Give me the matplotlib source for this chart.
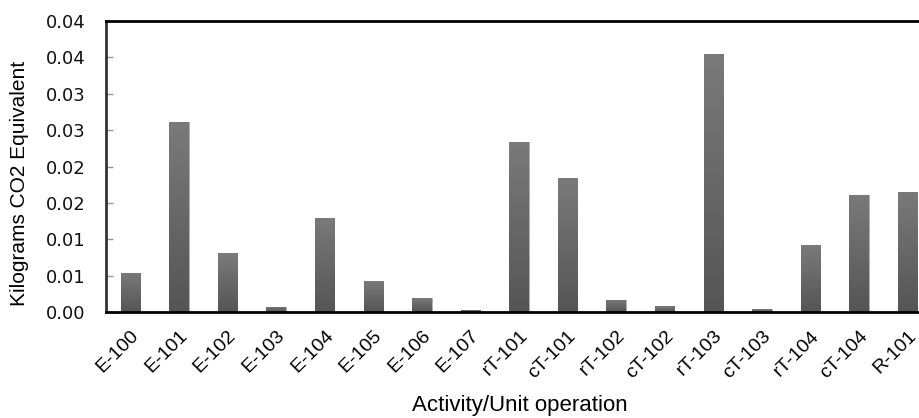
import numpy as np
import matplotlib
matplotlib.use("Agg")
import matplotlib.pyplot as plt
from matplotlib.ticker import FixedLocator, FixedFormatter
from matplotlib.colors import LinearSegmentedColormap

categories = ["E-100", "E-101", "E-102", "E-103", "E-104", "E-105", "E-106", "E-107",
              "rT-101", "cT-101", "rT-102", "cT-102", "rT-103", "cT-103", "rT-104",
              "cT-104", "R-101"]
values = [0.0054, 0.0261, 0.0081, 0.0007, 0.0129, 0.0042, 0.0019, 0.0003,
          0.0234, 0.0184, 0.0017, 0.0008, 0.0354, 0.0004, 0.0092, 0.0161, 0.0165]
ytick_values = [0.0, 0.005, 0.01, 0.015, 0.02, 0.025, 0.03, 0.035, 0.04]
ytick_labels = ["0.00", "0.01", "0.01", "0.02", "0.02", "0.03", "0.03", "0.04", "0.04"]

W, H = 920, 418
fig = plt.figure(figsize=(W / 100, H / 100), dpi=100)
left, right, top, bottom = 106, 932, 21, 312
ax = fig.add_axes([left / W, 1 - bottom / H, (right - left) / W, (bottom - top) / H])

x = np.arange(len(categories))
bars = ax.bar(x, values, width=0.4, color="#666666", edgecolor="#b0b0b0", linewidth=0.6, zorder=2)

grad = np.linspace(0, 1, 256).reshape(-1, 1)
cmap = LinearSegmentedColormap.from_list("g", ["#555555", "#7a7a7a"])
for b in bars:
    bx, by = b.get_x(), b.get_y()
    bw, bh = b.get_width(), b.get_height()
    im = ax.imshow(grad, extent=[bx, bx + bw, by, by + bh], origin="lower",
                   cmap=cmap, aspect="auto", zorder=2.5)
    im.set_clip_path(b)

ax.set_xlim(-0.5, len(categories) - 0.5)
ax.set_ylim(0, 0.04)

ax.yaxis.set_major_locator(FixedLocator(ytick_values))
ax.yaxis.set_major_formatter(FixedFormatter(ytick_labels))
ax.tick_params(axis="y", direction="in", length=5, width=1, color="#999999",
               labelsize=13, pad=15, labelcolor="#111111")
for lab in ax.get_yticklabels():
    lab.set_fontfamily("DejaVu Sans")

ax.set_xticks(x)
ax.set_xticklabels(categories, rotation=45, ha="right", rotation_mode="anchor",
                   fontsize=14, family="Liberation Sans")
ax.tick_params(axis="x", length=0, pad=11)

for side in ["top", "bottom"]:
    ax.spines[side].set_linewidth(2)
    ax.spines[side].set_color("black")
ax.spines["left"].set_linewidth(2)
ax.spines["left"].set_color("#333333")
ax.spines["right"].set_visible(False)

fig.text(20 / W, 1 - 183 / H, "Kilograms CO2 Equivalent", family="Liberation Sans",
         fontsize=15, rotation=90, ha="center", va="center")
fig.text(520 / W, 1 - 406 / H, "Activity/Unit operation", family="Liberation Sans",
         fontsize=16, ha="center", va="center")

fig.savefig("out.png", dpi=100)
